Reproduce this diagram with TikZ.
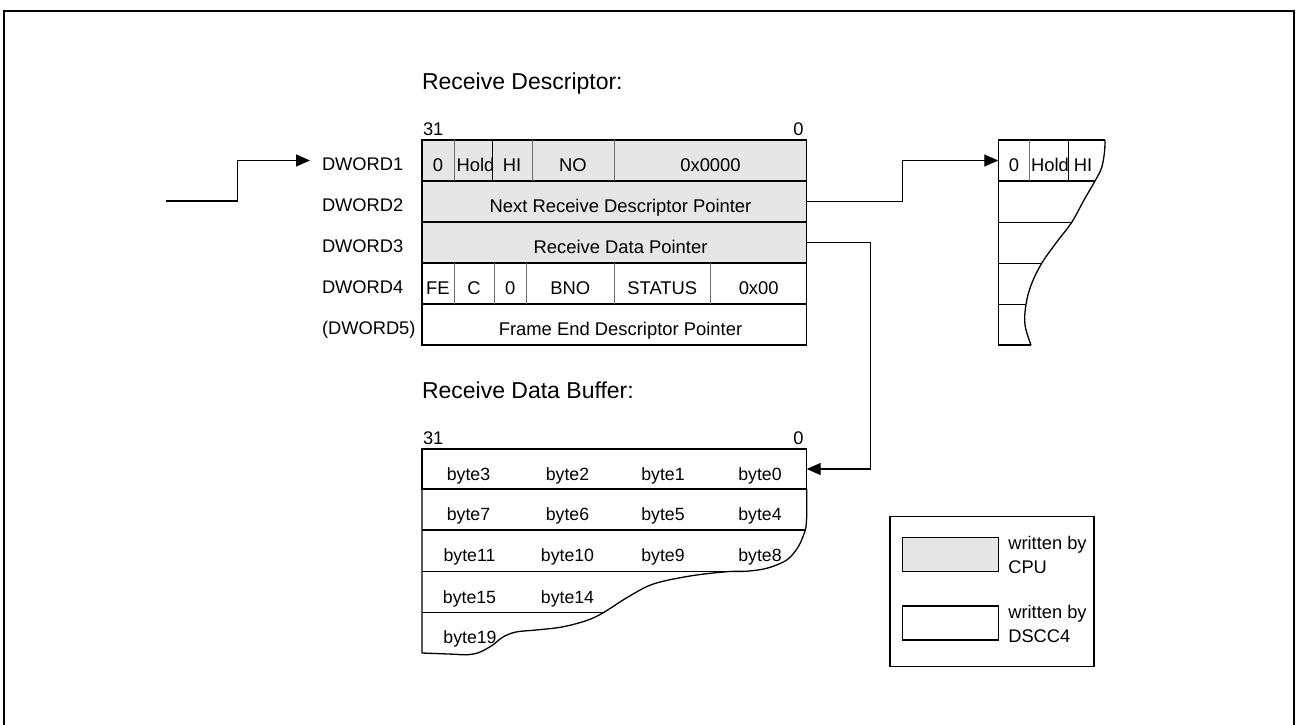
\documentclass[tikz,border=0pt]{standalone}
\usepackage{fontspec}
\setmainfont{Liberation Sans}
\usetikzlibrary{arrows.meta,calc}
\definecolor{gfill}{HTML}{E6E6E6}
\definecolor{divc}{HTML}{6E6E6E}
\newcommand\ftab{\fontsize{18.4}{22}\selectfont}
\newcommand\fdw{\fontsize{18.3}{22}\selectfont}
\newcommand\fbyte{\fontsize{17.7}{22}\selectfont}
\newcommand\ftitle{\fontsize{23}{27}\selectfont}
\newcommand\fleg{\fontsize{18.3}{22}\selectfont}
\begin{document}
\begin{tikzpicture}[x=1pt,y=-1pt,
  every node/.style={inner sep=0pt, outer sep=0pt},
  rowbox/.style={draw=black, line width=1.3pt, minimum width=384.7pt, minimum height=41pt},
  lbl/.style={anchor=base, font=\ftab},
  lblw/.style={anchor=base west, font=\ftab},
  dw/.style={anchor=base west, font=\fdw},
  bt/.style={anchor=base, font=\fbyte},
  ttl/.style={anchor=base west, font=\ftitle},
  lg/.style={anchor=base west, font=\fleg},
  arr/.style={-{Triangle[length=14pt,width=12pt]}, line width=1.3pt},
  cell/.style={draw=divc, line width=1pt},
  wire/.style={line width=1.3pt, line join=round}]
\useasboundingbox (0,0) rectangle (1298,725);
% outer frame
\draw[line width=2pt] (4,725) -- (4,11) -- (1294,11) -- (1294,725);
\draw[line width=2.6pt] (3,11) -- (1295,11);

% titles
\node[ttl] (t1) at (422,89) {Receive Descriptor:};
\node[ttl] (t2) at (422,398) {Receive Data Buffer:};

% descriptor table
\node[rowbox, fill=gfill] (d1) at (614.35,160.5) {};
\node[rowbox, fill=gfill] (d2) at (614.35,201.5) {};
\node[rowbox, fill=gfill] (d3) at (614.35,242.5) {};
\node[rowbox, fill=white] (d4) at (614.35,283.5) {};
\node[rowbox, fill=white] (d5) at (614.35,324.5) {};
\node[dw, anchor=base west] (b31) at (423,135) {31};
\node[dw, anchor=base east] (b0) at (803.5,135) {0};
% row 1 cells
\draw[cell] (454,140) -- (454,181);
\draw[cell] (532,140) -- (532,181);
\draw[cell] (614,140) -- (614,181);
\node[lbl] (c10) at (438,171.5) {0};
\node[lblw] (c1h) at (456.5,171.5) {Hold};
\draw[line width=1pt] (492.7,140) -- (492.7,181);
\node[lbl] (c1hi) at (512,171.5) {HI};
\node[lbl] (c1no) at (573,171.5) {NO};
\node[lbl] (c1x) at (710.5,171.5) {0x0000};
\node[lbl] (c2) at (620.5,212.5) {Next Receive Descriptor Pointer};
\node[lbl] (c3) at (620.5,253.5) {Receive Data Pointer};
% row 4 cells
\draw[cell] (454,263) -- (454,304);
\draw[cell] (494,263) -- (494,304);
\draw[cell] (526.7,263) -- (526.7,304);
\draw[cell] (614,263) -- (614,304);
\draw[cell] (710.7,263) -- (710.7,304);
\node[lbl] (c4fe) at (438,294.5) {FE};
\node[lbl] (c4c) at (474,294.5) {C};
\node[lbl] (c40) at (510.3,294.5) {0};
\node[lbl] (c4b) at (570.3,294.5) {BNO};
\node[lbl] (c4s) at (662.3,294.5) {STATUS};
\node[lbl] (c4x) at (758.7,294.5) {0x00};
\node[lbl] (c5) at (620.5,335.5) {Frame End Descriptor Pointer};

% DWORD labels
\node[dw] (w1) at (322,170) {DWORD1};
\node[dw] (w2) at (322,211) {DWORD2};
\node[dw] (w3) at (322,252) {DWORD3};
\node[dw] (w4) at (322,293) {DWORD4};
\node[dw] (w5) at (322,334) {(DWORD5)};

% right descriptor fragment
\node[minimum width=70pt, minimum height=41pt] (r1) at (1033.3,160.5) {};
\draw[wire] (1031,345) -- (998.3,345) -- (998.3,140) -- (1105,140);
\draw[wire] plot[smooth, tension=0.6] coordinates {(1105,140) (1104.5,152) (1101.5,168) (1095,181) (1084,200) (1071.7,222.3) (1056,243) (1041.7,263.3) (1031.5,284) (1026,304.3) (1025,325) (1031,345)};
\draw[wire] (998.3,181) -- (1095,181);
\draw[wire] (998.3,222.3) -- (1071.7,222.3);
\draw[wire] (998.3,263.3) -- (1041.7,263.3);
\draw[wire] (998.3,304.3) -- (1026,304.3);
\draw[cell] (1029.3,140) -- (1029.3,181);
\node[lbl] (r10) at (1014,171.5) {0};
\node[lblw] (r1h) at (1031,171.5) {Hold};
\draw[line width=1pt] (1068.3,140) -- (1068.3,181);
\node[lbl] (r1hi) at (1083,171.5) {HI};

% receive data buffer
\node[draw=black, line width=1.3pt, minimum width=384.7pt, minimum height=40pt] (b1) at (614.35,469) {};
\node[dw, anchor=base west] (bb31) at (423,444) {31};
\node[dw, anchor=base east] (bb0) at (803.5,444) {0};
\draw[wire] (456,654.3) -- (422,653) -- (422,489);
\draw[wire] (806.7,489) -- (806.7,516.7) -- plot[smooth, tension=0.55] coordinates {(806.7,516.7) (806.2,524) (805,531) (798.3,546.7) (786.7,560) (766.7,568.3) (746.7,571.2) (726.7,571.7) (690,576) (653.3,584) (628,597) (603.3,612.7) (586.7,620.5) (562,627) (536,630) (516,632) (503,637) (492,645.5) (479,652.5) (467,654.8) (456,654.3)};
\draw[wire] (422,530) -- (805,530);
\draw[wire] (422,571.7) -- (727,571.7);
\draw[wire] (422,612.7) -- (603.3,612.7);
\node[bt] (y3) at (468.5,480) {byte3};
\node[bt] (y2) at (567.5,480) {byte2};
\node[bt] (y1) at (663,480) {byte1};
\node[bt] (y0) at (760,480) {byte0};
\node[bt] (y7) at (468.5,520.5) {byte7};
\node[bt] (y6) at (567.5,520.5) {byte6};
\node[bt] (y5) at (663,520.5) {byte5};
\node[bt] (y4) at (760,520.5) {byte4};
\node[bt] (y11) at (469.5,561.8) {byte11};
\node[bt] (y10) at (567.5,561.8) {byte10};
\node[bt] (y9) at (663,561.8) {byte9};
\node[bt] (y8) at (760,561.8) {byte8};
\node[bt] (y15) at (469.5,603.2) {byte15};
\node[bt] (y14) at (567.5,603.2) {byte14};
\node[bt] (y19) at (470,643.8) {byte19};

% connectors
\coordinate (src) at (165.7,201);
\draw[arr] (src) -- ++(72,0) |- ([xshift=-12pt]w1.west |- d1.west);
\draw[arr] (d2.east) -- ++(96,0) |- (r1.west);
\draw[arr] (d3.east) -- ++(64,0) |- (b1.east);

% legend
\node[draw=black, line width=1.5pt, minimum width=204pt, minimum height=150pt] (leg) at (992,591.7) {};
\node[draw=black, fill=gfill, line width=1.3pt, minimum width=96pt, minimum height=34.4pt] (sw1) at (950.3,554.5) {};
\node[draw=black, fill=white, line width=1.3pt, minimum width=96pt, minimum height=34pt] (sw2) at (950.3,623) {};
\node[lg] (l1a) at (1008.3,549.5) {written by};
\node[lg] (l1b) at (1008.3,573.5) {CPU};
\node[lg] (l2a) at (1008.3,618.5) {written by};
\node[lg] (l2b) at (1008.3,642) {DSCC4};
\end{tikzpicture}
\end{document}
